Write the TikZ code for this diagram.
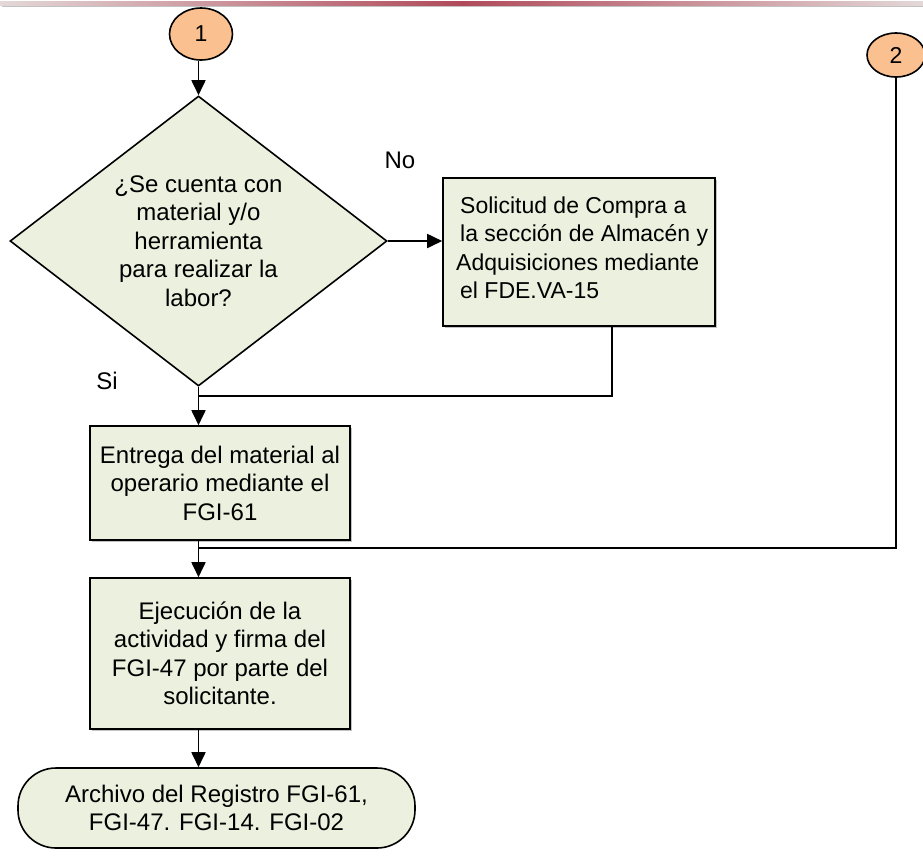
\documentclass[tikz,border=0pt]{standalone}
\usepackage{fontspec}
\setmainfont{Liberation Sans}
\usetikzlibrary{arrows.meta,shapes.geometric,shadows}
\definecolor{boxfill}{HTML}{EBF1DE}
\definecolor{connfill}{HTML}{FAC090}
\definecolor{rulemid}{HTML}{B04A5A}
\definecolor{ruleend}{HTML}{E4D8D8}
\begin{document}
\begin{tikzpicture}[x=1pt,y=-1pt,
  every node/.style={font=\fontsize{24}{28.5}\selectfont, inner sep=0pt},
  shade/.style={drop shadow={shadow xshift=1.5pt, shadow yshift=-1.5pt, fill=black!40, opacity=0.6}},
  connector/.style={ellipse, draw, line width=1.6pt, fill=connfill, font=\fontsize{23}{26}\selectfont},
  decision/.style={diamond, aspect=1.3, draw, line width=1.6pt, fill=boxfill, align=center,
    minimum width=377pt, minimum height=290pt},
  process/.style={rectangle, draw, line width=1.6pt, fill=boxfill, shade},
  terminal/.style={rectangle, rounded corners=38pt, draw, line width=1.6pt, fill=boxfill, align=center,
    minimum width=397pt, minimum height=80pt},
  flow/.style={line width=1.8pt, -{Triangle[length=15pt,width=14pt]}},
  link/.style={line width=1.8pt}]
\useasboundingbox (0,0) rectangle (923,863);

% header rule
\shade[left color=ruleend, right color=ruleend, middle color=rulemid] (0,1.5) rectangle (923,5.5);

% off-page connectors
\node[connector, minimum width=63pt, minimum height=52pt] (c1) at (201,34) {1};
\node[connector, minimum width=58pt, minimum height=44pt] (c2) at (896,55) {2};

% decision
\node[decision] (d) at (198.5,241)
  {¿Se cuenta con\\material y/o\\herramienta\\para realizar la\\labor?};

% purchase request
\node[process, minimum width=272pt, minimum height=148pt] (b2) at (579,252) {};
\node[anchor=west, align=left, font=\fontsize{23}{28.5}\selectfont] (b2t) at (460,248)
  {Solicitud de Compra a\\la sección de Almacén y\\\hspace*{-4pt}Adquisiciones mediante\\el FDE.VA-15};

% material delivery
\node[process, minimum width=260pt, minimum height=114pt, align=center] (b3) at (220,483)
  {Entrega del material al\\operario mediante el\\FGI-61};

% execution
\node[process, minimum width=260pt, minimum height=151pt, align=center] (b4) at (220,653.5)
  {Ejecución de la\\actividad y firma del\\FGI-47 por parte del\\solicitante.};

% record archive
\node[terminal] (t) at (216.5,808)
  {Archivo del Registro FGI-61,\\FGI-47. FGI-14. FGI-02};

% labels
\node (no) at (400,160) {No};
\node (si) at (107,381) {Si};

% joins
\coordinate (j1) at (199,396);
\coordinate (j2) at (199,548);
\coordinate (b2out) at (612,326);

% connectors
\draw[flow] (c1.south -| d.south) -- (d.north);
\draw[flow] (d.east) -- (b2.west |- d.east);
\draw[link] (b2out) |- (j1);
\draw[flow] (d.south) -- (b3.north -| d.south);
\draw[link] (c2.south) |- (j2);
\draw[flow] (b3.south -| d.south) -- (b4.north -| d.south);
\draw[flow] (b4.south -| d.south) -- (t.north -| d.south);
\end{tikzpicture}
\end{document}
